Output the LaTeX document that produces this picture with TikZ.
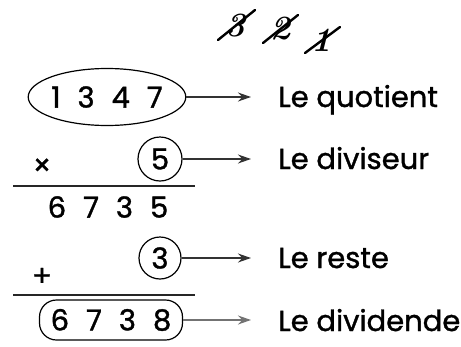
\documentclass[tikz,border=0pt]{standalone}
\usepackage{fontspec}
\newfontfamily\texte[FakeBold=1.2]{Poppins}
\usetikzlibrary{arrows.meta,shapes.geometric}
\newcommand{\ecart}{\hspace{17pt}}

\tikzset{
  nombre/.style={font=\texte\fontsize{29}{29}\selectfont, inner sep=0pt},
  etiquette/.style={font=\texte\fontsize{29}{29}\selectfont, anchor=base west, inner sep=0pt},
  retenue/.style={font=\bfseries\itshape\fontsize{34}{34}\selectfont, inner sep=0pt},
  barre/.style={line width=2.4pt, line cap=round},
  entoure/.style={draw, line width=1.2pt},
  fleche/.style={-{Stealth[length=13pt,width=9pt]}, line width=1.2pt, black!80},
  regle/.style={line width=2pt, black!85}
}

\begin{document}
\begin{tikzpicture}[x=1pt,y=-1pt]
\useasboundingbox (0,0) rectangle (461,346);

% Retenues barrées
\node[retenue] (r3) at (236,26) {3};
\node[retenue] (r2) at (281,29) {2};
\node[retenue] (r1) at (322,40) {1};
\draw[barre] ([shift={(-18,14)}]r3.center) -- ([shift={(19,-16)}]r3.center);
\draw[barre] ([shift={(-18,14)}]r2.center) -- ([shift={(17,-14)}]r2.center);
\draw[barre] ([shift={(-17,13)}]r1.center) -- ([shift={(18,-13)}]r1.center);

% Le quotient
\node[nombre, entoure, ellipse, minimum width=150pt, minimum height=57pt] (quotient) at (107,97) {1\ecart 3\ecart 4\ecart 7};
\coordinate (fquotient) at (251,97);
\draw[fleche] (quotient.east) -- (fquotient);
\node[etiquette] (lquotient) at (278,107) {Le quotient};

% Le diviseur
\node[nombre] (fois) at (42,167) {×};
\node[nombre, entoure, circle, minimum size=44pt] (diviseur) at (160,159) {5};
\coordinate (fdiviseur) at (251,159);
\draw[fleche] (diviseur.east) -- (fdiviseur);
\node[etiquette] (ldiviseur) at (278,169) {Le diviseur};

% Produit
\draw[regle] (13,186) -- (195,186);
\node[nombre] (produit) at (108,207) {6\ecart 7\ecart 3\ecart 5};

% Le reste
\node[nombre] (plus) at (42,277) {+};
\node[nombre, entoure, circle, minimum size=42pt] (reste) at (160,258) {3};
\coordinate (freste) at (251,258);
\draw[fleche] (reste.east) -- (freste);
\node[etiquette] (lreste) at (278,268) {Le reste};

% Le dividende
\draw[regle] (13,295) -- (195,295);
\node[nombre, entoure, rounded corners=17pt, minimum width=143pt, minimum height=40pt] (dividende) at (111,320) {6\ecart 7\ecart 3\ecart 8};
\coordinate (fdividende) at (251,320);
\draw[fleche, black!55] (dividende.east) -- (fdividende);
\node[etiquette] (ldividende) at (278,331) {Le dividende};
\end{tikzpicture}
\end{document}
